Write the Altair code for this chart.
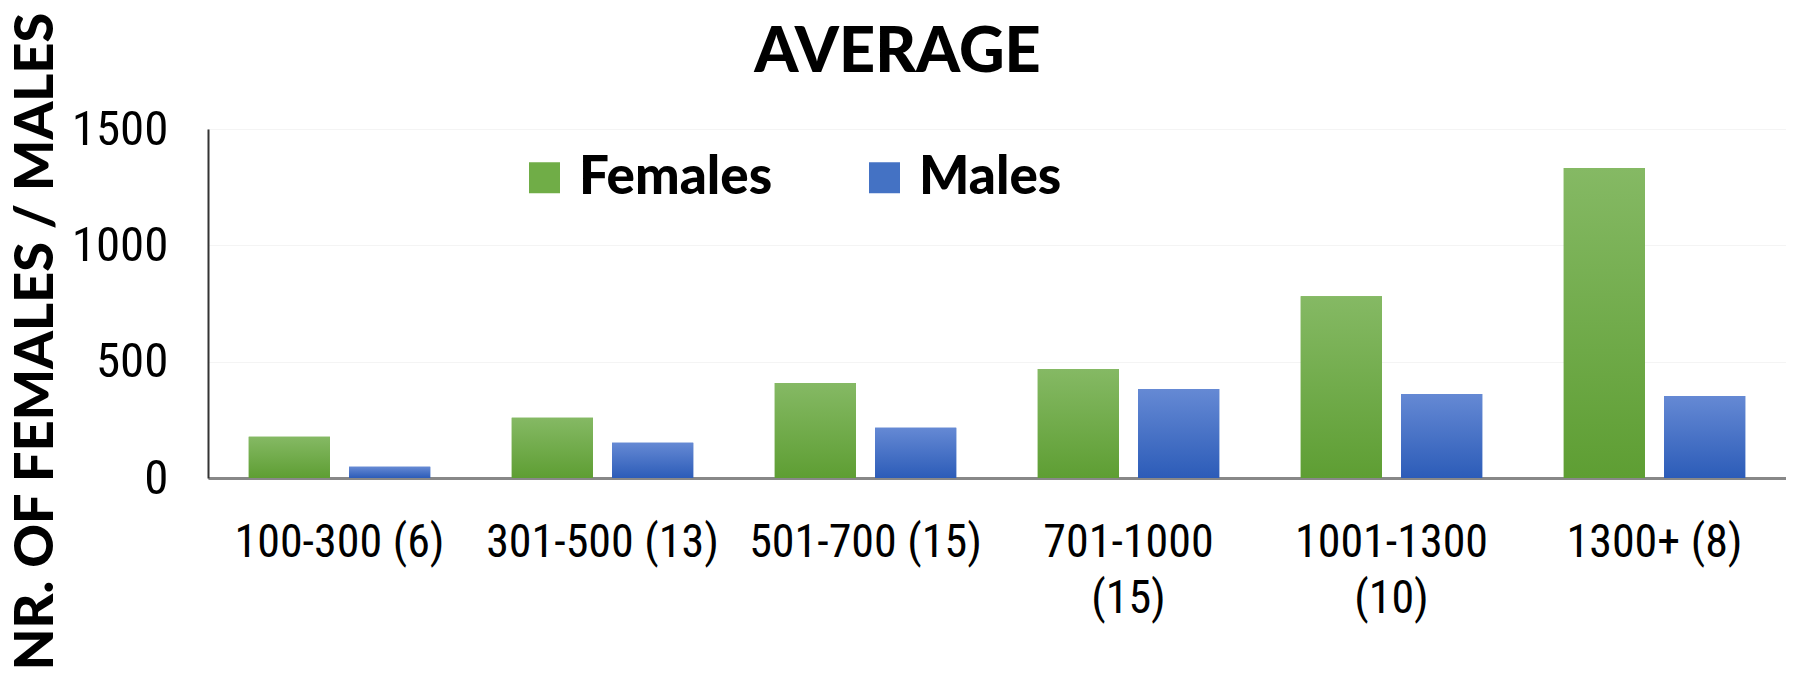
import altair as alt
import pandas as pd

categories = ["100-300 (6)", "301-500 (13)", "501-700 (15)", "701-1000 (15)", "1001-1300 (10)", "1300+ (8)"]
females = [177, 259, 408, 468, 781, 1332]
males = [48, 151, 216, 382, 361, 352]
series = ["Females", "Males"]

rows = []
for c, f, m in zip(categories, females, males):
    rows.append({"Range": c, "Sex": "Females", "Value": f})
    rows.append({"Range": c, "Sex": "Males", "Value": m})
df = pd.DataFrame(rows)

HEAVY = "Lato"
LIGHT = "Liberation Sans Narrow, Roboto Condensed, Liberation Sans"

green_grad = {"gradient": "linear", "x1": 0, "x2": 0, "y1": 0, "y2": 1,
              "stops": [{"offset": 0, "color": "#85b964"}, {"offset": 1, "color": "#5e9e33"}]}
blue_grad = {"gradient": "linear", "x1": 0, "x2": 0, "y1": 0, "y2": 1,
             "stops": [{"offset": 0, "color": "#6589d4"}, {"offset": 1, "color": "#2c5cb8"}]}

x_enc = alt.X("Range:N", sort=categories, title=None,
              scale=alt.Scale(paddingInner=0.31, paddingOuter=0.155),
              axis=alt.Axis(labelExpr="length(datum.label) > 12 ? split(datum.label, ' ') : datum.label",
                            labelAngle=0, labelFont=LIGHT, labelFontSize=46, labelColor="#000",
                            labelPadding=42, labelLineHeight=56, labelLimit=500, ticks=False,
                            domainColor="#888888", domainWidth=3, grid=False))
xo_enc = alt.XOffset("Sex:N", sort=series, scale=alt.Scale(paddingInner=0.19))
y_enc = alt.Y("Value:Q", scale=alt.Scale(domain=[0, 1500]),
              title="NR. OF FEMALES / MALES",
              axis=alt.Axis(values=[0, 500, 1000, 1500], format="d", labelFont=LIGHT, labelFontSize=49,
                            labelColor="#000", labelPadding=40, ticks=False,
                            domainColor="#333333", domainWidth=2,
                            grid=True, gridColor="#f4f4f4", gridWidth=1,
                            titleFont=HEAVY, titleFontWeight=900, titleFontSize=54,
                            titleColor="#000", titleY=212, titleX=-145))

base = alt.Chart(df).mark_bar().encode(
    x=x_enc, xOffset=xo_enc, y=y_enc,
    color=alt.Color("Sex:N", sort=series,
                    scale=alt.Scale(domain=series, range=["#70ad47", "#4472c4"]),
                    legend=alt.Legend(title=None, orient="none", legendX=310, legendY=22,
                                      direction="horizontal", symbolType="square",
                                      symbolSize=961, symbolStrokeWidth=0, symbolOpacity=1,
                                      labelFont=HEAVY, labelFontWeight=900, labelFontSize=53,
                                      labelColor="#000", labelOffset=8, columnPadding=85,
                                      labelLimit=400))
)

grad = alt.Chart(df).mark_bar().encode(
    x=x_enc, xOffset=xo_enc, y=y_enc,
    color=alt.condition(alt.datum.Sex == "Females", alt.value(green_grad), alt.value(blue_grad))
)

chart = alt.layer(base, grad).properties(
    width=1578, height=349,
    title=alt.TitleParams("AVERAGE", font=HEAVY, fontWeight=900, fontSize=63,
                          color="#000", anchor="middle", frame="bounds", offset=-73),
    padding={"top": 3, "left": 0, "right": 0, "bottom": 0},
).configure_view(stroke=None).configure(background="white")

chart.save("out.html", embed_options={"renderer": "svg", "actions": False})
